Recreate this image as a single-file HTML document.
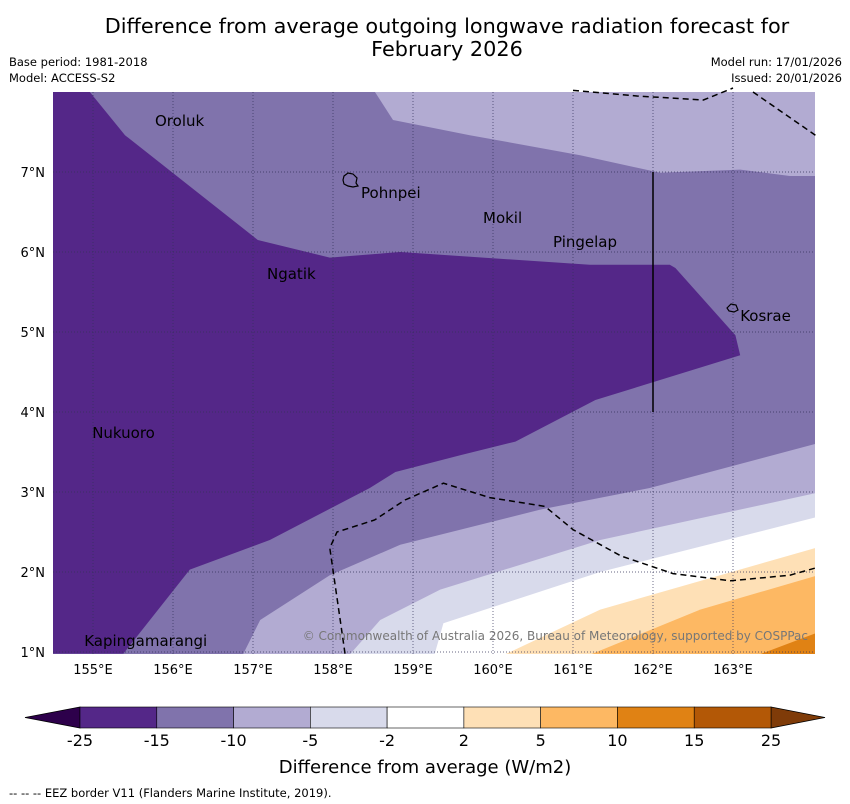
<!DOCTYPE html>
<html><head><meta charset="utf-8"><style>
body{margin:0;background:#fff;}
svg{display:block;font-family:"DejaVu Sans","Liberation Sans",sans-serif;}
</style></head><body>
<svg id="c" width="850" height="804" xmlns="http://www.w3.org/2000/svg">
<text x="447" y="33" font-size="20.8" text-anchor="middle">Difference from average outgoing longwave radiation forecast for</text>
<text x="447" y="56" font-size="20.8" text-anchor="middle">February 2026</text>
<text x="9" y="66" font-size="11.5">Base period: 1981-2018</text>
<text x="9" y="82" font-size="11.5">Model: ACCESS-S2</text>
<text x="842" y="66" font-size="11.5" text-anchor="end">Model run: 17/01/2026</text>
<text x="842" y="82" font-size="11.5" text-anchor="end">Issued: 20/01/2026</text>
<defs><clipPath id="pc"><rect x="53" y="92" width="762" height="562"/></clipPath></defs>
<g id="plot" clip-path="url(#pc)"></g>
<g id="over"></g>
<g id="cb"></g>
<text x="425" y="773" font-size="18" text-anchor="middle">Difference from average (W/m2)</text>
<text x="9" y="797" font-size="11.5">--  --  -- EEZ border V11 (Flanders Marine Institute, 2019).</text>
</svg>
<script>
const lonTicks=[155,156,157,158,159,160,161,162,163];
const latTicks=[1,2,3,4,5,6,7];
const cbLevels=["-25","-15","-10","-5","-2","2","5","10","15","25"];
const cbColors=["#542788","#8073ac","#b2abd2","#d8daeb","#ffffff","#fee0b6","#fdb863","#e08214","#b35806"];
const darkBand=[[154.5,8],[154.96,8],[155.4,7.46],[157.06,6.15],[157.96,5.93],[158.84,6.0],[161.21,5.84],[162.21,5.84],[162.28,5.8],[163.03,4.96],[163.09,4.71],[161.28,4.15],[160.28,3.63],[159.59,3.46],[158.78,3.25],[158.46,3.05],[157.21,2.4],[156.21,2.03],[155.38,0.98],[154.5,0.98]];
const topLight=[[158.46,8.1],[158.75,7.65],[159.71,7.46],[161.09,7.21],[162.09,6.99],[163.09,7.03],[163.71,6.95],[164.1,6.95],[164.1,8.1]];
const lightLine=[[156.84,0.9],[157.09,1.4],[157.96,1.96],[158.84,2.34],[160.59,2.78],[161.96,3.05],[164.1,3.62]];
const vlightLine=[[158.15,0.9],[158.59,1.4],[159.34,1.78],[161.34,2.4],[164.1,3.0]];
const whiteLine=[[159.25,0.9],[159.38,1.36],[161.34,2.0],[164.1,2.7]];
const creamLine=[[160.0,0.9],[161.34,1.53],[164.1,2.32]];
const orangeLine=[[161.05,0.9],[162.59,1.53],[164.1,1.97]];
const dorangeLine=[[163.15,0.9],[164.1,1.26]];
const eezTop=[[161.0,8.02],[161.8,7.95],[162.63,7.9],[163.0,8.05]];
const eezTop2=[[163.25,8.0],[164.03,7.46]];
const eezBottom=[[158.15,0.98],[158.09,1.4],[157.96,2.3],[158.05,2.5],[158.52,2.65],[158.9,2.9],[159.38,3.11],[159.96,2.93],[160.65,2.82],[161.0,2.53],[161.6,2.2],[162.25,1.98],[162.97,1.89],[163.71,1.96],[164.03,2.05]];
const places=[["Oroluk",155.775,7.575],["Pohnpei",158.35,6.675],["Mokil",159.875,6.36],["Pingelap",160.75,6.06],["Ngatik",157.175,5.66],["Kosrae",163.09,5.14],["Nukuoro",154.99,3.675],["Kapingamarangi",154.89,1.075]];
const X=lon=>53+(lon-154.5)*80, Y=lat=>92+(8-lat)*80;
const NS="http://www.w3.org/2000/svg";
function mk(tag,attrs,parent){const e=document.createElementNS(NS,tag);for(const k in attrs)e.setAttribute(k,attrs[k]);parent.appendChild(e);return e;}
const pts=a=>a.map(p=>X(p[0]).toFixed(1)+","+Y(p[1]).toFixed(1)).join(" ");
const plot=document.getElementById('plot'),over=document.getElementById('over'),cb=document.getElementById('cb');
let r=mk('rect',{x:53,y:92,width:762,height:562,fill:cbColors[1]},plot);


const br=[164.1,0.9];
const bands=[[darkBand,0,'band-minus25-minus15'],[topLight,2,'band-minus10-minus5-north'],[lightLine.concat([br]),2,'band-minus10-minus5'],[vlightLine.concat([br]),3,'band-minus5-minus2'],[whiteLine.concat([br]),4,'band-minus2-2'],[creamLine.concat([br]),5,'band-2-5'],[orangeLine.concat([br]),6,'band-5-10'],[dorangeLine.concat([br]),7,'band-10-15']];
bands.forEach(b=>{const p=mk('polygon',{points:pts(b[0]),fill:cbColors[b[1]]},plot);

});
lonTicks.forEach(l=>{const g=mk('line',{x1:X(l),x2:X(l),y1:92,y2:654,stroke:'#33335a','stroke-width':0.7,'stroke-dasharray':'1,2'},over);


const t=mk('text',{x:X(l),y:674,'font-size':13,'text-anchor':'middle'},over);t.textContent=l+"°E";

});
latTicks.forEach(l=>{const g=mk('line',{x1:53,x2:815,y1:Y(l),y2:Y(l),stroke:'#33335a','stroke-width':0.7,'stroke-dasharray':'1,2'},over);


const t=mk('text',{x:45,y:Y(l)+5,'font-size':13,'text-anchor':'end'},over);t.textContent=l+"°N";

});
[eezTop,eezTop2,eezBottom].forEach(a=>{const e=mk('polyline',{points:pts(a),fill:'none',stroke:'#000','stroke-width':1.5,'stroke-dasharray':'6,4'},over);

});
let v=mk('line',{x1:X(162),x2:X(162),y1:Y(7),y2:Y(4),stroke:'#000','stroke-width':1.5},over);


let isl=mk('path',{d:'M344,176 l4,-3 l5,1 l4,4 l-1,5 l2,3 l-5,1 l-5,-1 l-4,-2 l-1,-4z',fill:'none',stroke:'#000','stroke-width':1.2},over);


let isl2=mk('path',{d:'M727,308 l4,-4 l5,1 l2,5 l-4,2 l-5,-1z',fill:'none',stroke:'#000','stroke-width':1.2},over);


places.forEach(p=>{const t=mk('text',{x:X(p[1]),y:Y(p[2]),'font-size':15},over);t.textContent=p[0];

});
let cp=mk('text',{x:808,y:640,'font-size':12,'text-anchor':'end',fill:'#777'},over);cp.textContent="© Commonwealth of Australia 2026, Bureau of Meteorology, supported by COSPPac";


const cx0=80,cx1=771,cy=707,ch=21,sw=(cx1-cx0)/cbColors.length;
let lt=mk('polygon',{points:`${cx0},${cy} 25,${cy+ch/2} ${cx0},${cy+ch}`,fill:'#2d004b',stroke:'#000','stroke-width':0.8},cb);


let rt=mk('polygon',{points:`${cx1},${cy} 825,${cy+ch/2} ${cx1},${cy+ch}`,fill:'#7f3b08',stroke:'#000','stroke-width':0.8},cb);


cbColors.forEach((c,i)=>{const s=mk('rect',{x:cx0+i*sw,y:cy,width:sw,height:ch,fill:c,stroke:'#000','stroke-width':0.6},cb);

});
cbLevels.forEach((l,i)=>{const t=mk('text',{x:cx0+i*sw,y:746,'font-size':16,'text-anchor':'middle'},cb);t.textContent=l;

});
</script>
</body></html>
